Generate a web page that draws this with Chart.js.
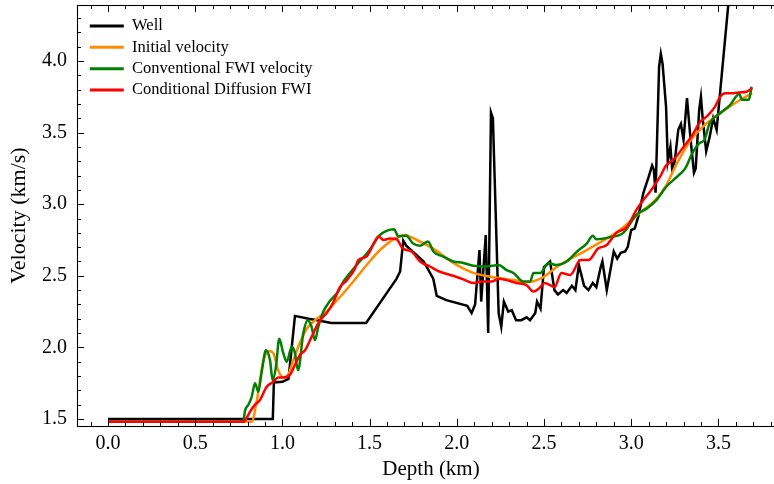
<!DOCTYPE html>
<html>
<head>
  <meta charset="UTF-8">
  <title>Velocity profile</title>
  <script src="https://cdn.jsdelivr.net/npm/chart.js"></script>
  <style>
    html, body { margin: 0; padding: 0; background: #fff; overflow: hidden; }
    canvas { display: block; }
  </style>
</head>
<body>

  <canvas id="velChart" width="786" height="484"></canvas>

  <script>
    // --- data (depth in km, velocity in km/s) ---
    const wellDepth = [0.0, 0.945, 0.951, 1.0, 1.035, 1.072, 1.15, 1.2, 1.28, 1.48, 1.655, 1.675, 1.693, 1.71, 1.81, 1.865, 1.885, 1.94, 2.06, 2.085, 2.105, 2.13, 2.14, 2.166, 2.18, 2.196, 2.207, 2.24, 2.255, 2.27, 2.295, 2.315, 2.34, 2.37, 2.40, 2.42, 2.45, 2.46, 2.48, 2.50, 2.535, 2.56, 2.58, 2.61, 2.63, 2.66, 2.68, 2.70, 2.73, 2.755, 2.78, 2.80, 2.825, 2.835, 2.86, 2.90, 2.92, 2.94, 2.965, 2.98, 3.00, 3.02, 3.04, 3.07, 3.10, 3.12, 3.13, 3.14, 3.16, 3.17, 3.18, 3.20, 3.21, 3.225, 3.235, 3.25, 3.27, 3.285, 3.30, 3.32, 3.34, 3.36, 3.37, 3.39, 3.40, 3.41, 3.43, 3.45, 3.47, 3.49, 3.565];
    const wellVel   = [1.50, 1.50, 1.755, 1.76, 1.78, 2.22, 2.20, 2.19, 2.17, 2.17, 2.48, 2.53, 2.745, 2.71, 2.60, 2.48, 2.36, 2.33, 2.29, 2.24, 2.30, 2.68, 2.32, 2.785, 2.10, 3.64, 3.60, 2.24, 2.145, 2.32, 2.25, 2.26, 2.19, 2.19, 2.21, 2.19, 2.24, 2.32, 2.27, 2.56, 2.60, 2.40, 2.37, 2.40, 2.38, 2.43, 2.40, 2.575, 2.43, 2.40, 2.45, 2.42, 2.56, 2.60, 2.40, 2.67, 2.62, 2.66, 2.67, 2.70, 2.82, 2.83, 2.91, 3.08, 3.19, 3.27, 3.24, 3.08, 3.96, 4.05, 3.98, 3.68, 3.30, 3.40, 3.25, 3.30, 3.52, 3.56, 3.45, 3.74, 3.46, 3.22, 3.25, 3.66, 3.75, 3.60, 3.37, 3.47, 3.60, 3.52, 4.50];

    const initDepth = [0.0, 0.824, 0.852, 0.89, 0.925, 0.948, 0.976, 1.005, 1.034, 1.06, 1.10, 1.14, 1.197, 1.254, 1.30, 1.40, 1.50, 1.56, 1.62, 1.70, 1.77, 1.865, 1.98, 2.095, 2.21, 2.325, 2.40, 2.48, 2.59, 2.76, 2.935, 3.05, 3.146, 3.20, 3.26, 3.337, 3.41, 3.51, 3.64, 3.694];
    const initVel   = [1.48, 1.48, 1.62, 1.90, 1.975, 1.96, 1.84, 1.79, 1.81, 1.90, 2.03, 2.13, 2.20, 2.25, 2.31, 2.45, 2.60, 2.68, 2.74, 2.785, 2.75, 2.69, 2.59, 2.52, 2.49, 2.47, 2.455, 2.48, 2.575, 2.69, 2.82, 2.94, 3.04, 3.13, 3.28, 3.44, 3.54, 3.635, 3.74, 3.775];

    const fwiDepth = [0.0, 0.775, 0.786, 0.805, 0.824, 0.843, 0.862, 0.88, 0.906, 0.929, 0.944, 0.963, 0.982, 1.005, 1.025, 1.053, 1.07, 1.09, 1.12, 1.145, 1.167, 1.187, 1.206, 1.235, 1.27, 1.32, 1.35, 1.426, 1.50, 1.56, 1.60, 1.64, 1.665, 1.71, 1.75, 1.79, 1.835, 1.866, 1.92, 1.98, 2.037, 2.095, 2.17, 2.24, 2.285, 2.325, 2.38, 2.42, 2.44, 2.48, 2.525, 2.57, 2.63, 2.69, 2.745, 2.78, 2.80, 2.88, 2.955, 3.03, 3.09, 3.146, 3.20, 3.27, 3.31, 3.35, 3.39, 3.42, 3.45, 3.51, 3.565, 3.62, 3.635, 3.675, 3.69];
    const fwiVel   = [1.48, 1.48, 1.56, 1.60, 1.655, 1.75, 1.69, 1.82, 1.98, 1.91, 1.77, 1.865, 2.06, 1.96, 1.90, 2.005, 1.97, 1.84, 2.10, 2.19, 2.145, 2.05, 2.145, 2.25, 2.32, 2.39, 2.46, 2.575, 2.68, 2.785, 2.815, 2.825, 2.775, 2.78, 2.725, 2.71, 2.74, 2.67, 2.635, 2.60, 2.59, 2.57, 2.565, 2.575, 2.54, 2.52, 2.46, 2.46, 2.52, 2.52, 2.59, 2.575, 2.60, 2.67, 2.725, 2.78, 2.755, 2.77, 2.80, 2.925, 2.97, 3.03, 3.12, 3.20, 3.25, 3.355, 3.425, 3.45, 3.565, 3.635, 3.69, 3.77, 3.73, 3.73, 3.82];

    const diffDepth = [0.0, 0.775, 0.786, 0.814, 0.843, 0.87, 0.91, 0.948, 0.976, 1.005, 1.044, 1.072, 1.10, 1.13, 1.168, 1.206, 1.235, 1.254, 1.29, 1.33, 1.37, 1.416, 1.435, 1.483, 1.53, 1.55, 1.58, 1.617, 1.655, 1.69, 1.74, 1.79, 1.846, 1.90, 1.98, 2.037, 2.095, 2.15, 2.20, 2.24, 2.285, 2.34, 2.40, 2.44, 2.47, 2.505, 2.535, 2.56, 2.60, 2.65, 2.71, 2.755, 2.81, 2.86, 2.915, 2.975, 3.03, 3.07, 3.11, 3.165, 3.20, 3.25, 3.30, 3.35, 3.39, 3.44, 3.48, 3.51, 3.54, 3.585, 3.62, 3.66, 3.695];
    const diffVel   = [1.48, 1.48, 1.49, 1.55, 1.60, 1.63, 1.725, 1.76, 1.79, 1.79, 1.81, 1.877, 1.947, 1.98, 2.075, 2.17, 2.215, 2.24, 2.31, 2.42, 2.47, 2.55, 2.61, 2.635, 2.74, 2.775, 2.75, 2.76, 2.755, 2.69, 2.67, 2.60, 2.565, 2.53, 2.50, 2.475, 2.45, 2.46, 2.46, 2.48, 2.47, 2.45, 2.435, 2.39, 2.41, 2.45, 2.435, 2.42, 2.52, 2.505, 2.61, 2.61, 2.69, 2.715, 2.80, 2.84, 2.96, 3.03, 3.09, 3.19, 3.27, 3.32, 3.40, 3.48, 3.565, 3.62, 3.68, 3.75, 3.775, 3.775, 3.78, 3.785, 3.81];

    const seriesNames  = ['Well', 'Initial velocity', 'Conventional FWI velocity', 'Conditional Diffusion FWI'];
    const seriesColors = ['#000000', '#ff8c00', '#008000', '#ff0000'];

    const xTickVals  = [0.0, 0.5, 1.0, 1.5, 2.0, 2.5, 3.0, 3.5];
    const yTickVals  = [1.5, 2.0, 2.5, 3.0, 3.5, 4.0];
    const xMinorVals = [-0.1, 0.1, 0.2, 0.3, 0.4, 0.6, 0.7, 0.8, 0.9, 1.1, 1.2, 1.3, 1.4, 1.6, 1.7, 1.8, 1.9, 2.1, 2.2, 2.3, 2.4, 2.6, 2.7, 2.8, 2.9, 3.1, 3.2, 3.3, 3.4, 3.6, 3.7, 3.8];
    const yMinorVals = [1.6, 1.7, 1.8, 1.9, 2.1, 2.2, 2.3, 2.4, 2.6, 2.7, 2.8, 2.9, 3.1, 3.2, 3.3, 3.4, 3.6, 3.7, 3.8, 3.9, 4.1, 4.2, 4.3];

    const serif = "'Liberation Serif', 'Times New Roman', serif";

    function pts(xs, ys) {
      return xs.map((d, i) => ({ x: d, y: ys[i] }));
    }

    // spines + inward ticks, matplotlib style
    const axesFrame = {
      id: 'axesFrame',
      afterDraw(chart) {
        const { ctx, chartArea: a, scales } = chart;
        const xs = scales.x, ys = scales.y;
        ctx.save();
        ctx.strokeStyle = '#000';
        ctx.lineWidth = 1.1;
        ctx.strokeRect(a.left + 0.5, a.top + 0.5, a.right - a.left, a.bottom - a.top);
        ctx.lineWidth = 1;
        const tickX = (v, len) => {
          const p = Math.round(xs.getPixelForValue(v)) + 0.5;
          ctx.moveTo(p, a.bottom); ctx.lineTo(p, a.bottom - len);
          ctx.moveTo(p, a.top); ctx.lineTo(p, a.top + len);
        };
        const tickY = (v, len) => {
          const p = Math.round(ys.getPixelForValue(v)) + 0.5;
          ctx.moveTo(a.left, p); ctx.lineTo(a.left + len, p);
          ctx.moveTo(a.right, p); ctx.lineTo(a.right - len, p);
        };
        ctx.beginPath();
        xTickVals.forEach(v => tickX(v, 7));
        xMinorVals.forEach(v => tickX(v, 4));
        yTickVals.forEach(v => tickY(v, 7));
        yMinorVals.forEach(v => tickY(v, 4));
        ctx.stroke();
        ctx.restore();
      }
    };

    // nudge the in-plot legend to where it sits in the figure
    const legendInset = {
      id: 'legendInset',
      afterLayout(chart) {
        const lg = chart.legend;
        if (!lg) return;
        lg.left = chart.chartArea.left + 8;
        lg.top = chart.chartArea.top + 8;
      }
    };

    const ctx = document.getElementById('velChart').getContext('2d');
    const chart = new Chart(ctx, {
      type: 'line',
      data: {
        datasets: [
          { label: seriesNames[0], data: pts(wellDepth, wellVel), borderColor: seriesColors[0], backgroundColor: seriesColors[0], borderWidth: 2.5, pointRadius: 0, tension: 0, order: 4 },
          { label: seriesNames[1], data: pts(initDepth, initVel), borderColor: seriesColors[1], backgroundColor: seriesColors[1], borderWidth: 2.5, pointRadius: 0, cubicInterpolationMode: 'monotone', order: 3 },
          { label: seriesNames[2], data: pts(fwiDepth, fwiVel), borderColor: seriesColors[2], backgroundColor: seriesColors[2], borderWidth: 2.5, pointRadius: 0, cubicInterpolationMode: 'monotone', order: 2 },
          { label: seriesNames[3], data: pts(diffDepth, diffVel), borderColor: seriesColors[3], backgroundColor: seriesColors[3], borderWidth: 2.5, pointRadius: 0, cubicInterpolationMode: 'monotone', order: 1 }
        ]
      },
      options: {
        responsive: false,
        animation: false,
        layout: { padding: { top: 5, right: 1, bottom: 0, left: 0 } },
        plugins: {
          tooltip: { enabled: false },
          legend: {
            position: 'chartArea',
            align: 'start',
            labels: {
              color: '#000',
              font: { family: serif, size: 16.5 },
              boxWidth: 34,
              boxHeight: 3,
              padding: 4.8,
              generateLabels: () => seriesNames.map((name, i) => ({
                text: name,
                fillStyle: seriesColors[i],
                strokeStyle: seriesColors[i],
                lineWidth: 0,
                hidden: false,
                datasetIndex: i
              }))
            }
          }
        },
        scales: {
          x: {
            type: 'linear',
            min: -0.1778,
            max: 3.882,
            grid: { display: false, drawTicks: false },
            border: { display: false },
            afterBuildTicks: s => { s.ticks = xTickVals.map(v => ({ value: v })); },
            afterFit: s => { s.height = 58; s.paddingLeft = 0; s.paddingRight = 0; },
            ticks: {
              color: '#000',
              padding: 6,
              maxRotation: 0,
              font: { family: serif, size: 20 },
              callback: v => Number(v).toFixed(1)
            },
            title: {
              display: true,
              text: 'Depth (km)',
              color: '#000',
              font: { family: serif, size: 21 },
              padding: { top: 0, bottom: 2 }
            }
          },
          y: {
            type: 'linear',
            min: 1.4511,
            max: 4.391,
            grid: { display: false, drawTicks: false },
            border: { display: false },
            afterBuildTicks: s => { s.ticks = yTickVals.map(v => ({ value: v })); },
            afterFit: s => { s.width = 77; s.paddingTop = 0; s.paddingBottom = 0; },
            ticks: {
              color: '#000',
              padding: 10,
              font: { family: serif, size: 20 },
              callback: v => Number(v).toFixed(1)
            },
            title: {
              display: true,
              text: 'Velocity (km/s)',
              color: '#000',
              font: { family: serif, size: 22 },
              padding: { top: 6, bottom: 0 }
            }
          }
        }
      },
      plugins: [axesFrame, legendInset]
    });
  </script>

</body>
</html>
